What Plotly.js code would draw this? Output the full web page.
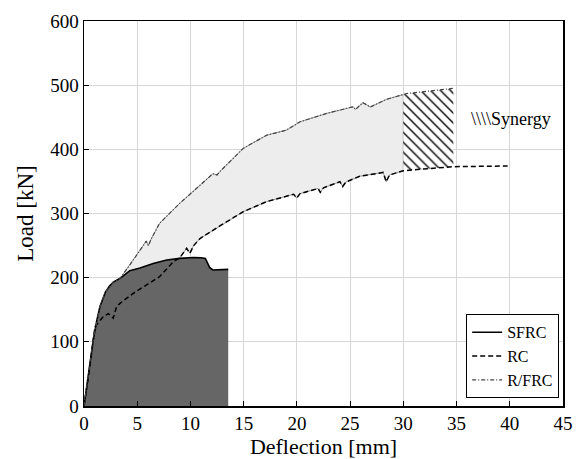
<!DOCTYPE html>
<html>
<head>
<meta charset="utf-8">
<script src="https://cdn.plot.ly/plotly-3.0.1.min.js"></script>
<style>html,body{margin:0;padding:0;background:#fff;}#chart{width:586px;height:459px;}</style>
</head>
<body>
<div id="chart"></div>
<script>
// SFRC
const sfrcX = [0, 0.3, 0.6, 0.87, 1.2, 1.5, 2.0, 2.4, 2.75, 3.4, 4.3, 5.26, 6.5, 7.77, 9.0, 10.27, 11.0, 11.4, 11.8, 12.1, 13.55];
const sfrcY = [0, 35, 72, 103, 133, 155, 177, 187, 193, 199, 211, 215, 222, 227.5, 230, 231.5, 231, 230, 216, 212, 213];
// RC
const rcX = [0, 0.5, 1.03, 1.8, 2.28, 2.75, 3.06, 3.38, 4.63, 5.9, 7.1, 8.4, 9.0, 9.64, 9.95, 10.3, 10.9, 12.8, 14.96, 17.15, 19.7, 19.97, 20.3, 22.0, 22.2, 22.5, 24.04, 24.3, 24.6, 25.9, 28.1, 28.4, 28.7, 30, 34.7, 39.8];
const rcY = [0, 55, 123.5, 139, 144, 137, 155, 160, 175.6, 188.5, 201.5, 225, 231, 245.7, 238, 250, 261, 281, 302.8, 318.4, 330, 324, 331, 339, 333, 340, 349.5, 342, 349, 358, 364, 349.5, 360, 366.7, 373, 374];
// R/FRC
const rfX = [0, 0.3, 0.6, 0.87, 1.5, 2.0, 2.75, 3.4, 4.63, 5.6, 5.85, 6.05, 6.3, 7.1, 9.0, 10.9, 12.1, 12.5, 12.8, 14.96, 17.15, 19.03, 20.3, 22.8, 25.3, 25.5, 26.2, 26.9, 28.4, 30, 30.3, 34.7];
const rfY = [0, 35, 72, 103, 155, 177, 193, 199, 227.5, 252, 257, 250, 260, 284.7, 316, 344, 362, 360, 366, 401.5, 422, 430, 443, 456, 466.4, 462, 472.8, 466, 477.8, 485.5, 487, 495];

const splitX = 30;
const startX = 3.38;

// light gray region between R/FRC and RC (startX..splitX)
const gX = [], gY = [];
rfX.forEach((x, i) => { if (x >= startX && x <= splitX) { gX.push(x); gY.push(rfY[i]); } });
for (let i = rcX.length - 1; i >= 0; i--) { if (rcX[i] >= startX && rcX[i] <= splitX) { gX.push(rcX[i]); gY.push(rcY[i]); } }
gX.push(gX[0]); gY.push(gY[0]);

// synergy hatch region (splitX..end of R/FRC)
const rfEnd = rfX[rfX.length - 1];
const hX = [], hY = [];
rfX.forEach((x, i) => { if (x >= splitX) { hX.push(x); hY.push(rfY[i]); } });
for (let i = rcX.length - 1; i >= 0; i--) { if (rcX[i] >= splitX && rcX[i] <= rfEnd) { hX.push(rcX[i]); hY.push(rcY[i]); } }
hX.push(hX[0]); hY.push(hY[0]);

const font = 'Liberation Serif';

const traces = [
  {x: gX, y: gY, type: 'scatter', mode: 'lines', fill: 'toself', fillcolor: '#ededed',
   line: {color: '#777', width: 0.8}, showlegend: false, hoverinfo: 'skip'},
  {x: hX, y: hY, type: 'scatter', mode: 'lines', fill: 'toself', fillcolor: 'white',
   fillpattern: {shape: '\\', fgcolor: '#000', bgcolor: 'white', size: 7, solidity: 0.2},
   line: {color: 'rgba(0,0,0,0)', width: 0}, showlegend: false, hoverinfo: 'skip'},
  {x: sfrcX, y: sfrcY, type: 'scatter', mode: 'lines', fill: 'tozeroy', fillcolor: '#666666',
   line: {color: '#000', width: 0}, showlegend: false, hoverinfo: 'skip'},
  {x: sfrcX, y: sfrcY, type: 'scatter', mode: 'lines', name: 'SFRC', line: {color: '#000', width: 1.6}},
  {x: rcX, y: rcY, type: 'scatter', mode: 'lines', name: 'RC', line: {color: '#000', width: 1.5, dash: '5px,3px'}},
  {x: rfX, y: rfY, type: 'scatter', mode: 'lines', name: 'R/FRC', line: {color: '#444', width: 1.2, dash: '4px,2px,1px,2px'}}
];

const axisCommon = {
  showline: true, mirror: true, linecolor: '#000', linewidth: 1.5,
  ticks: 'inside', ticklen: 5, tickcolor: '#000', tickwidth: 1,
  showgrid: true, gridcolor: '#d6d6d6', gridwidth: 1, zeroline: false,
  tickfont: {family: font, size: 19, color: '#000'}
};

const layout = {
  width: 586, height: 459,
  margin: {l: 84, r: 23, t: 21, b: 53},
  paper_bgcolor: '#fff', plot_bgcolor: '#fff',
  xaxis: Object.assign({}, axisCommon, {range: [0, 45], dtick: 5, tick0: 0,
    title: {text: 'Deflection [mm]', font: {family: font, size: 22, color: '#000'}, standoff: 3}}),
  yaxis: Object.assign({}, axisCommon, {range: [0, 600], dtick: 100, tick0: 0,
    title: {text: 'Load [kN]', font: {family: font, size: 23, color: '#000'}, standoff: 10}}),
  legend: {x: 0.992, xanchor: 'right', y: 0.02, yanchor: 'bottom',
    bgcolor: '#fff', bordercolor: '#000', borderwidth: 1,
    font: {family: font, size: 16, color: '#000'}, tracegroupgap: 0},
  annotations: [{x: 40.1, y: 447, xref: 'x', yref: 'y', text: '\\\\\\\\Synergy', showarrow: false,
    font: {family: font, size: 18, color: '#000'}}]
};

Plotly.newPlot('chart', traces, layout, {displayModeBar: false, staticPlot: true});
</script>
</body>
</html>
